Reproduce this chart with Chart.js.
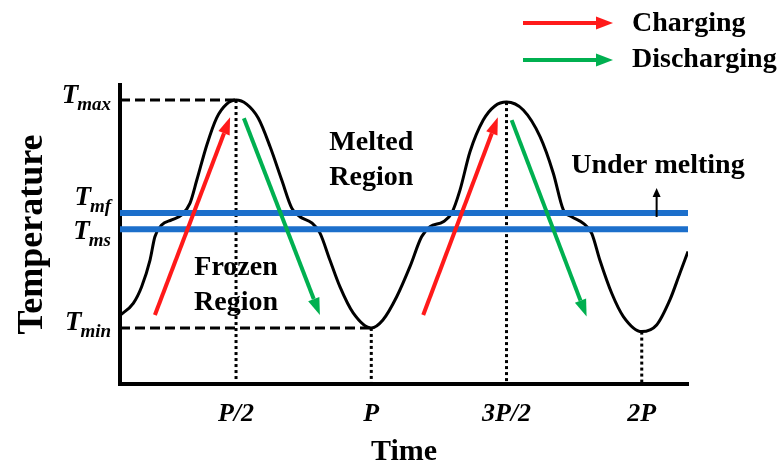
<!DOCTYPE html>
<html>
<head>
<meta charset="utf-8">
<script src="https://cdn.jsdelivr.net/npm/chart.js@4.4.1/dist/chart.umd.min.js"></script>
<style>
  html, body { margin: 0; padding: 0; background: #fff; }
</style>
</head>
<body>
<canvas id="phaseChart" width="781" height="470"></canvas>
<script>
// time in units of the period P, temperature normalised so Tmin = 0, Tmax = 1
const xRange = [0.071, 2.171];
const yRange = [-0.246, 1.066];

const curveTime = [0.071, 0.120, 0.151, 0.182, 0.200, 0.225, 0.262, 0.299, 0.330, 0.355,
  0.392, 0.428, 0.465, 0.500, 0.539, 0.582, 0.626, 0.669, 0.706, 0.736,
  0.780, 0.810, 0.847, 0.884, 0.933, 1.000, 1.043, 1.094, 1.143, 1.186,
  1.217, 1.266, 1.297, 1.328, 1.365, 1.414, 1.457, 1.500, 1.562, 1.624,
  1.673, 1.710, 1.741, 1.784, 1.815, 1.845, 1.889, 1.932, 2.000, 2.055,
  2.104, 2.141, 2.171];
const curveTemp = [0.055, 0.108, 0.181, 0.298, 0.400, 0.452, 0.474, 0.496, 0.548, 0.649,
  0.803, 0.921, 0.982, 1.000, 0.982, 0.921, 0.795, 0.649, 0.526, 0.488,
  0.461, 0.417, 0.298, 0.181, 0.066, 0.000, 0.035, 0.137, 0.269, 0.400,
  0.444, 0.466, 0.503, 0.605, 0.773, 0.912, 0.974, 0.991, 0.956, 0.839,
  0.679, 0.518, 0.488, 0.459, 0.415, 0.298, 0.152, 0.050, -0.016, 0.013,
  0.123, 0.240, 0.335];

const tickValues = [0.5, 1, 1.5, 2];
const tickLabels = ["P/2", "P", "3P/2", "2P"];

const levelNames = ["max", "mf", "ms", "min"];
const levelValues = [1, 0.504, 0.433, 0];

// peaks / troughs that get a dotted drop line to the time axis
const dropTimes = [0.5, 1, 1.5, 2];
const dropTemps = [1, 0, 0.991, -0.016];

// arrows: [t0, T0, t1, T1]
const chargeArrows = [[0.200, 0.057, 0.478, 0.924], [1.192, 0.057, 1.468, 0.924]];
const dischargeArrows = [[0.529, 0.920, 0.810, 0.057], [1.519, 0.912, 1.796, 0.050]];
const meltArrow = [2.055, 0.487, 2.055, 0.614];

const serif = '"Liberation Serif", "Times New Roman", serif';
const RED = "#ff1a1a", GREEN = "#00b050", BLUE = "#1c6fcb";

function seg(x0, y0, x1, y1) {
  return [{ x: x0, y: y0 }, { x: x1, y: y1 }];
}

const datasets = [];
datasets.push({
  data: curveTime.map((t, i) => ({ x: t, y: curveTemp[i] })),
  borderColor: "#000", borderWidth: 3, cubicInterpolationMode: "monotone", order: 2,
});
datasets.push({ data: seg(xRange[0], levelValues[1], xRange[1], levelValues[1]),
  borderColor: BLUE, borderWidth: 6, order: 1 });
datasets.push({ data: seg(xRange[0], levelValues[2], xRange[1], levelValues[2]),
  borderColor: BLUE, borderWidth: 6, order: 1 });
datasets.push({ data: seg(xRange[0], levelValues[0], dropTimes[0], levelValues[0]),
  borderColor: "#000", borderWidth: 3, borderDash: [10, 5], order: 3 });
datasets.push({ data: seg(xRange[0], levelValues[3], dropTimes[1], levelValues[3]),
  borderColor: "#000", borderWidth: 3, borderDash: [10, 5], order: 3 });
dropTimes.forEach((t, i) => {
  datasets.push({ data: seg(t, dropTemps[i], t, yRange[0]),
    borderColor: "#000", borderWidth: 3, borderDash: [3, 3], order: 4 });
});

function drawArrow(ctx, x0, y0, x1, y1, color, width, headLen, headW) {
  const a = Math.atan2(y1 - y0, x1 - x0);
  const bx = x1 - headLen * Math.cos(a), by = y1 - headLen * Math.sin(a);
  ctx.save();
  ctx.strokeStyle = color;
  ctx.fillStyle = color;
  ctx.lineWidth = width;
  ctx.beginPath();
  ctx.moveTo(x0, y0);
  ctx.lineTo(bx, by);
  ctx.stroke();
  ctx.beginPath();
  ctx.moveTo(x1, y1);
  ctx.lineTo(bx + headW / 2 * Math.sin(a), by - headW / 2 * Math.cos(a));
  ctx.lineTo(bx - headW / 2 * Math.sin(a), by + headW / 2 * Math.cos(a));
  ctx.closePath();
  ctx.fill();
  ctx.restore();
}

const annotations = {
  id: "annotations",
  afterDatasetsDraw(chart) {
    const { ctx } = chart;
    const xs = chart.scales.x, ys = chart.scales.y;
    const px = (t) => xs.getPixelForValue(t), py = (v) => ys.getPixelForValue(v);

    chargeArrows.forEach((a) => drawArrow(ctx, px(a[0]), py(a[1]), px(a[2]), py(a[3]), RED, 4, 17, 12));
    dischargeArrows.forEach((a) => drawArrow(ctx, px(a[0]), py(a[1]), px(a[2]), py(a[3]), GREEN, 4, 17, 12));
    drawArrow(ctx, px(meltArrow[0]), py(meltArrow[1]), px(meltArrow[2]), py(meltArrow[3]), "#000", 2, 9, 8);

    ctx.save();
    ctx.fillStyle = "#000";
    ctx.textAlign = "center";
    ctx.textBaseline = "middle";
    ctx.font = "bold 28px " + serif;
    ctx.fillText("Melted", px(1.0), py(0.811));
    ctx.fillText("Region", px(1.0), py(0.658));
    ctx.fillText("Frozen", px(0.5), py(0.263));
    ctx.fillText("Region", px(0.5), py(0.110));
    ctx.fillText("Under melting", px(2.06), py(0.711));

    // legend
    drawArrow(ctx, 523, 23, 613, 23, RED, 4, 17, 13);
    drawArrow(ctx, 523, 60, 613, 60, GREEN, 4, 17, 13);
    ctx.textAlign = "left";
    ctx.font = "bold 28px " + serif;
    ctx.fillText("Charging", 632, 24);
    ctx.fillText("Discharging", 632, 60);

    // level labels T_max, T_mf, T_ms, T_min
    const dy = [-4, -15, 3, -5];
    levelNames.forEach((name, i) => {
      const y = py(levelValues[i]) + dy[i];
      ctx.font = "italic bold 27px " + serif;
      const wT = ctx.measureText("T").width;
      ctx.font = "italic bold 19px " + serif;
      const wS = ctx.measureText(name).width;
      const x0 = 112 - wT - wS;
      ctx.font = "italic bold 27px " + serif;
      ctx.fillText("T", x0, y);
      ctx.font = "italic bold 19px " + serif;
      ctx.fillText(name, x0 + wT - 1, y + 9);
    });
    ctx.restore();
  },
};

new Chart(document.getElementById("phaseChart").getContext("2d"), {
  type: "line",
  data: { datasets: datasets },
  options: {
    responsive: false,
    animation: false,
    layout: { padding: { top: 85, right: 93, left: 0, bottom: 0 } },
    elements: { point: { radius: 0 }, line: { fill: false } },
    scales: {
      x: {
        type: "linear",
        min: xRange[0],
        max: xRange[1],
        grid: { display: false },
        border: { color: "#000", width: 4 },
        afterBuildTicks: (scale) => { scale.ticks = tickValues.map((v) => ({ value: v })); },
        afterFit: (scale) => { scale.height = 86; },
        ticks: {
          padding: 7,
          color: "#000",
          font: { family: serif, size: 26, weight: "bold", style: "italic" },
          callback: (v) => tickLabels[tickValues.indexOf(v)],
        },
        title: {
          display: true, text: "Time", color: "#000",
          font: { family: serif, size: 30, weight: "bold" },
          padding: { top: 0, bottom: 0 },
        },
      },
      y: {
        type: "linear",
        min: yRange[0],
        max: yRange[1],
        grid: { display: false },
        border: { color: "#000", width: 4 },
        ticks: { display: false },
        afterFit: (scale) => { scale.width = 120; },
        title: {
          display: true, text: "Temperature", color: "#000",
          font: { family: serif, size: 36, weight: "bold" },
          padding: { top: 11, bottom: 0 },
        },
      },
    },
    plugins: { legend: { display: false }, tooltip: { enabled: false } },
  },
  plugins: [annotations],
});
</script>
</body>
</html>
